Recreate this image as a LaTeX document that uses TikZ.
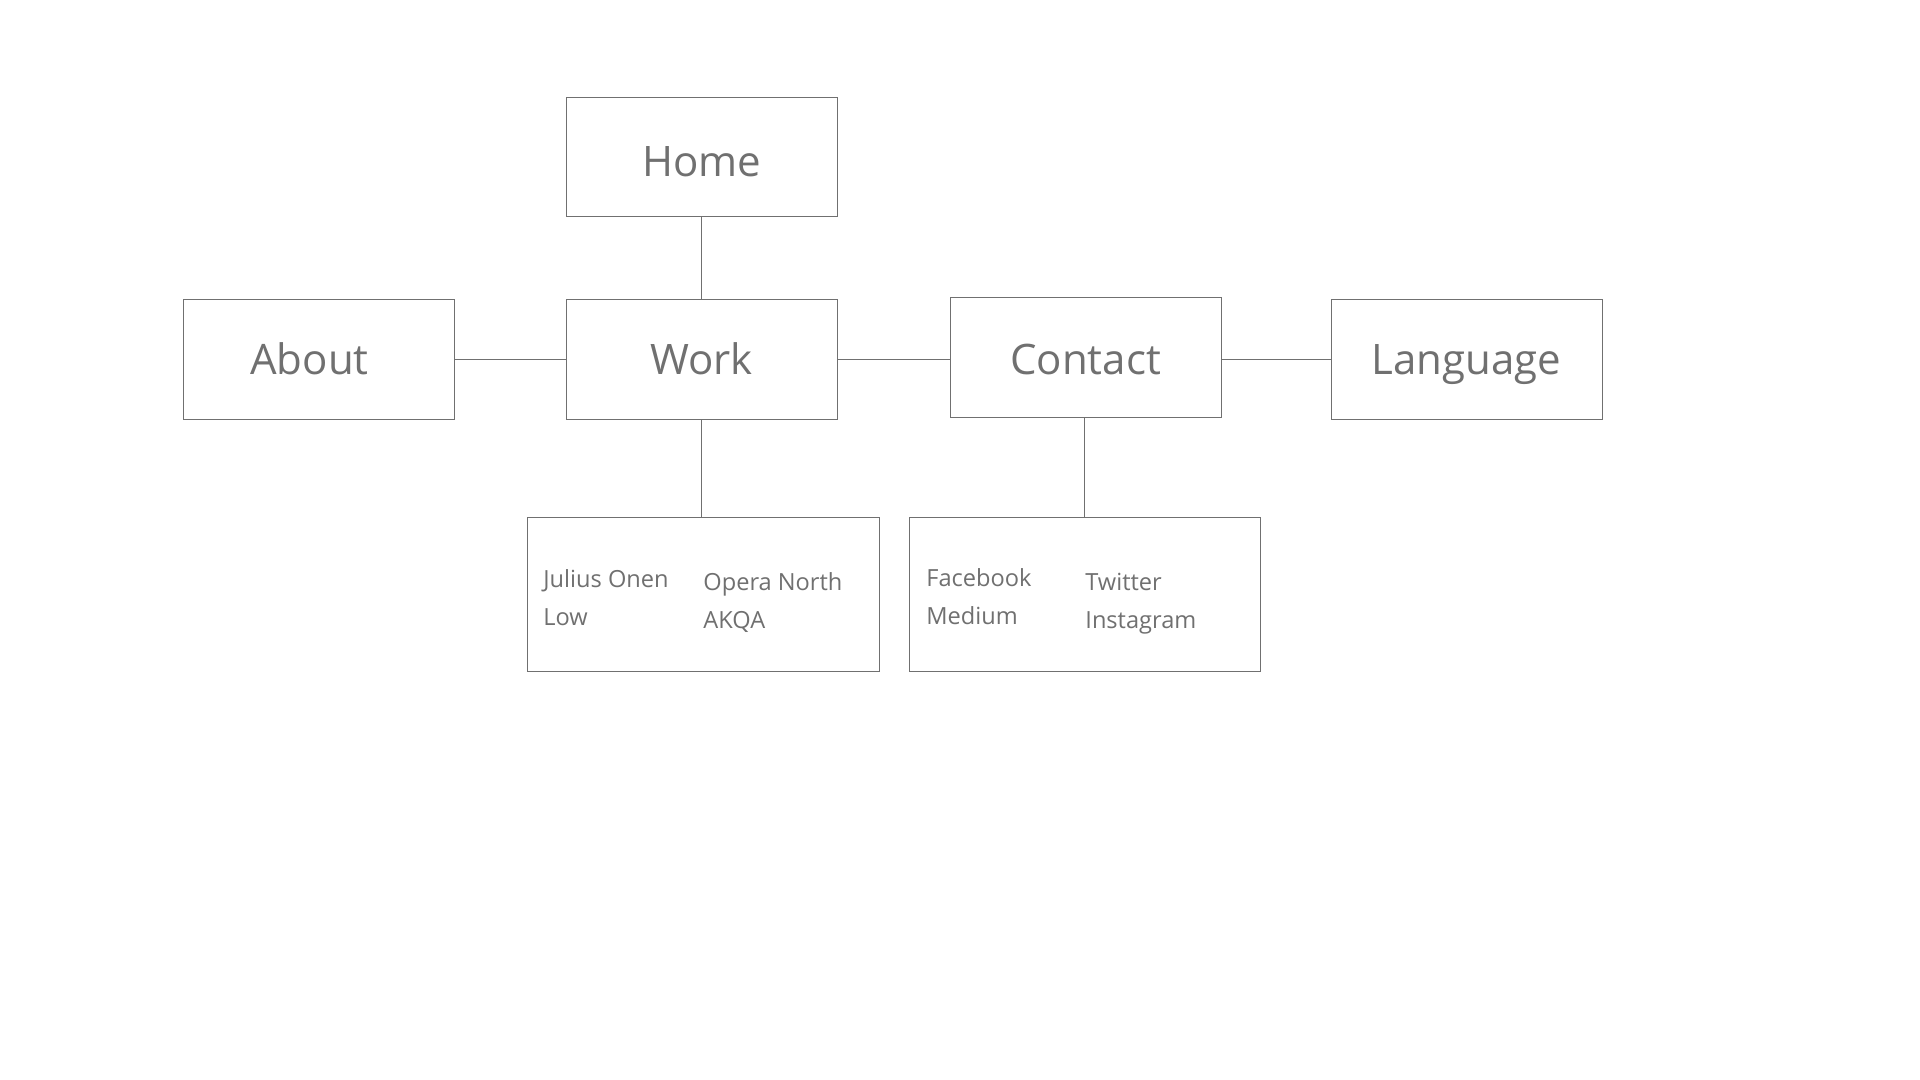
\documentclass[tikz,border=0pt]{standalone}
\usepackage{fontspec}
\setmainfont{Open Sans}
\definecolor{wiregray}{RGB}{112,112,112}

\begin{document}
\begin{tikzpicture}[x=.5pt, y=-.5pt,
    box/.style={draw=wiregray, line width=.5pt, minimum width=135.5pt, minimum height=59.5pt, inner sep=0pt, text height=15pt, text depth=0pt, text=wiregray, font=\fontsize{21}{25}\selectfont},
    listbox/.style={draw=wiregray, line width=.5pt, minimum width=176pt, minimum height=77pt, inner sep=0pt},
    item/.style={anchor=base west, align=left, inner sep=0pt, text=wiregray, font=\fontsize{11.8}{19}\selectfont},
    link/.style={draw=wiregray, line width=.5pt}]
    
    \fill[white] (0,0) rectangle (1920,1080);
    \useasboundingbox (0,0) rectangle (1920,1080);
    
    \node[box, text height=19.5pt] (home) at (701.5,157.5) {Home};
    \node[box] (about) at (318.5,359.5) {About\kern9pt};
    \node[box] (work) at (701.5,359.5) {Work};
    \node[box, text height=16.5pt] (contact) at (1085.5,357.5) {Contact};
    \node[box] (language) at (1466.5,359.5) {Language};
    
    \node[listbox] (worklist) at (703,594) {};
    \node[listbox, minimum width=175.5pt] (contactlist) at (1084.5,594) {};
    
    \node[item] (julius) at (543,625) {Julius Onen\\Low};
    \node[item] (opera) at (703,628) {Opera North\\AKQA};
    \node[item] (facebook) at (926,624) {Facebook\\Medium};
    \node[item] (twitter) at (1085,628) {Twitter\\Instagram};
    
    \draw[link] (home.south) -- (work.north);
    \draw[link] (about.east) -- (work.west);
    \draw[link] (work.east) -- (work.east -| contact.west);
    \draw[link] (contact.east |- language.west) -- (language.west);
    \draw[link] (work.south) -- (work.south |- worklist.north);
    \draw[link] (contactlist.north |- contact.south) -- (contactlist.north);
    
\end{tikzpicture}
\end{document}
